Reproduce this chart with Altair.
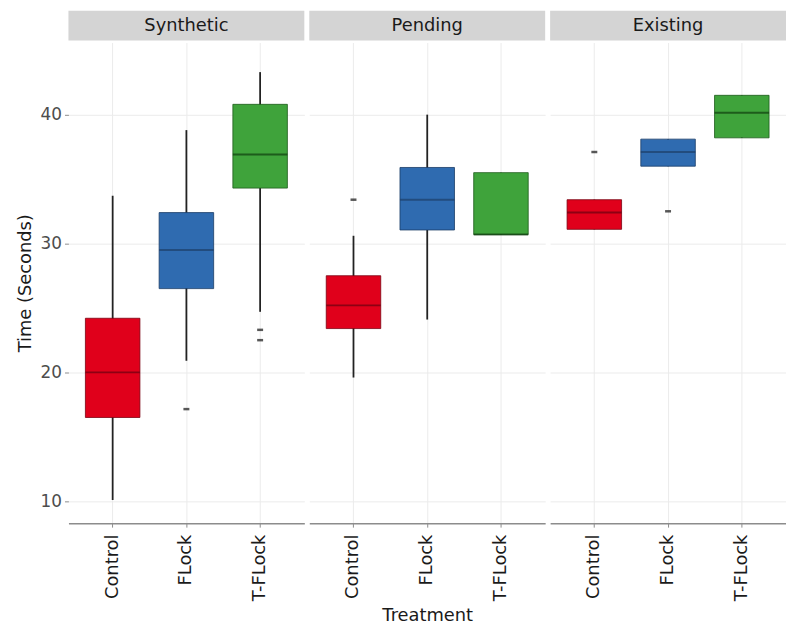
import altair as alt
import pandas as pd

facets = ["Synthetic", "Pending", "Existing"]
treatments = ["Control", "FLock", "T-FLock"]

# per facet, per treatment (Control, FLock, T-FLock)
lower = [[10.1, 20.9, 24.7], [19.6, 24.1, 30.7], [31.1, 36.0, 38.2]]
q1 = [[16.5, 26.5, 34.3], [23.4, 31.05, 30.7], [31.1, 36.0, 38.2]]
median = [[20.0, 29.5, 36.9], [25.2, 33.4, 30.7], [32.4, 37.1, 40.15]]
q3 = [[24.2, 32.4, 40.8], [27.5, 35.9, 35.5], [33.4, 38.1, 41.5]]
upper = [[33.7, 38.8, 43.3], [30.6, 40.0, 35.5], [33.4, 38.1, 41.5]]

out_facet = ["Synthetic", "Synthetic", "Synthetic", "Pending", "Existing", "Existing"]
out_treat = ["FLock", "T-FLock", "T-FLock", "Control", "Control", "FLock"]
out_value = [17.15, 23.3, 22.5, 33.4, 37.1, 32.5]

fill_colors = ["#e0001b", "#2f6bb0", "#3fa33b"]
dark_colors = ["#7a0010", "#1a3c66", "#1c5a1a"]
median_colors = ["#6a0010", "#1d3f6a", "#0f3d0e"]

rows = []
for fi, f in enumerate(facets):
    for ti, t in enumerate(treatments):
        rows.append(dict(facet=f, treatment=t, lower=lower[fi][ti], q1=q1[fi][ti],
                         median=median[fi][ti], q3=q3[fi][ti], upper=upper[fi][ti]))
box = pd.DataFrame(rows)
outl = pd.DataFrame(dict(facet=out_facet, treatment=out_treat, value=out_value))

W = 238
H = 485
SH = 30
FONT = "DejaVu Sans"

ydomain = [8.3, 45.6]


def panel(i, f):
    d = box[box.facet == f]
    o = outl[outl.facet == f]
    xaxis = alt.Axis(labelAngle=-90, labelFontSize=18, labelColor="#1a1a1a", labelFont=FONT,
                     title="Treatment" if i == 1 else None, titleFontSize=18, titleFont=FONT,
                     titleFontWeight="normal", titleColor="#1a1a1a", titlePadding=6,
                     domainColor="#8c8c8c", domainWidth=1.5, tickColor="#8c8c8c", tickSize=4,
                     labelPadding=7, gridColor="#ebebeb", grid=True)
    if i == 0:
        yaxis = alt.Axis(values=[10, 20, 30, 40], title="Time (Seconds)", titleFontSize=18,
                         titleFont=FONT, titleFontWeight="normal", titleColor="#1a1a1a",
                         titlePadding=6, labelFontSize=17, labelColor="#4d4d4d", labelFont=FONT,
                         tickColor="#8c8c8c", tickSize=4, labelPadding=3, domain=False,
                         gridColor="#ebebeb")
    else:
        yaxis = alt.Axis(values=[10, 20, 30, 40], title=None, labels=False, ticks=False,
                         domain=False, gridColor="#ebebeb")
    xs = alt.Scale(domain=treatments, paddingInner=0.267, paddingOuter=0.233)
    ys = alt.Scale(domain=ydomain, nice=False, zero=False)
    col = alt.Color("treatment:N", scale=alt.Scale(domain=treatments, range=fill_colors), legend=None)
    base = alt.Chart(d)
    whisk = base.mark_rule(color="#222222", strokeWidth=1.8).encode(
        x=alt.X("treatment:N", scale=xs, axis=xaxis),
        y=alt.Y("lower:Q", scale=ys, axis=yaxis),
        y2="upper:Q")
    bars = base.mark_bar(size=55, strokeWidth=0.8).encode(
        x=alt.X("treatment:N", scale=xs),
        y=alt.Y("q1:Q", scale=ys),
        y2="q3:Q",
        color=col,
        stroke=alt.Stroke("treatment:N", scale=alt.Scale(domain=treatments, range=dark_colors), legend=None))
    med = base.mark_tick(size=55, thickness=2).encode(
        x=alt.X("treatment:N", scale=xs),
        y=alt.Y("median:Q", scale=ys),
        color=alt.Color("treatment:N", scale=alt.Scale(domain=treatments, range=median_colors), legend=None))
    layers = [whisk, bars, med]
    if len(o):
        pts = alt.Chart(o).mark_tick(size=6, thickness=2.5, color="#111111").encode(
            x=alt.X("treatment:N", scale=xs),
            y=alt.Y("value:Q", scale=ys))
        layers.append(pts)
    plot = alt.layer(*layers).properties(width=W, height=H).resolve_scale(color="independent")

    strip_df = pd.DataFrame(dict(label=[f]))
    strip_bg = alt.Chart(strip_df).mark_rect(color="#d4d4d4").encode(
        x=alt.value(0), x2=alt.value(W), y=alt.value(0), y2=alt.value(SH))
    strip_tx = alt.Chart(strip_df).mark_text(fontSize=18, font=FONT, color="#1a1a1a").encode(
        text="label:N", x=alt.value(W / 2), y=alt.value(SH / 2))
    strip = alt.layer(strip_bg, strip_tx).properties(width=W, height=SH)
    return alt.vconcat(strip, plot, spacing=2)


chart = alt.hconcat(*[panel(i, f) for i, f in enumerate(facets)], spacing=5).properties(
    padding={"left": 8, "top": 0, "right": 0, "bottom": 0}
).configure_view(stroke=None).configure_concat(spacing=5)

chart.save("out.html", embed_options={"renderer": "svg", "actions": False})
